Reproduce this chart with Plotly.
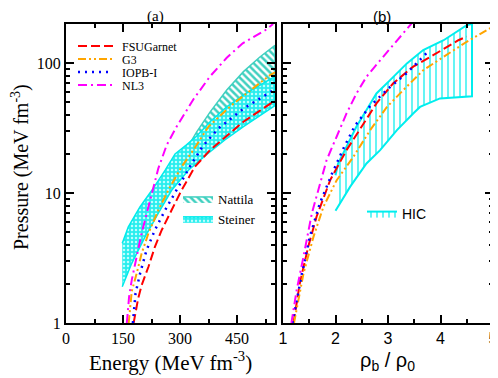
import plotly.graph_objects as go

# ---------------- data ----------------
# Left panel: Energy (MeV fm^-3) vs Pressure (MeV fm^-3)
fsu_E = [178, 190, 199, 217, 234, 252, 278, 304, 339, 379, 467, 546, 550]
fsu_P = [1.0, 1.55, 1.95, 2.71, 3.86, 5.2, 7.4, 10.5, 15.9, 21.4, 35.4, 50.5, 51.5]
g3_E = [165, 173, 186, 199, 217, 243, 269, 304, 335, 375, 436, 537, 550]
g3_P = [1.0, 1.75, 2.41, 3.43, 4.9, 7.4, 10.5, 15.9, 21.4, 32.5, 47.5, 81, 85]
iopb_E = [176, 183, 195, 212, 234, 261, 296, 331, 360, 401, 467, 537, 550]
iopb_P = [1.0, 1.69, 2.41, 3.64, 5.2, 7.4, 11.2, 16.9, 23, 31.4, 44.6, 60, 63]
nl3_E = [160, 166, 173, 186, 199, 217, 243, 265, 291, 335, 379, 423, 465, 524, 545]
nl3_P = [1.0, 1.59, 2.14, 3.24, 4.9, 7.85, 15.5, 23.4, 32.4, 52.5, 79, 110, 142, 179, 200]

nat_up_E = [300, 309, 344, 379, 423, 467, 511, 550]
nat_up_P = [18, 20, 29.6, 42, 62, 86, 112, 137]
nat_lo_E = [300, 344, 379, 423, 467, 511, 550]
nat_lo_P = [17, 24, 33, 44, 55, 66, 77]

st_up_E = [148, 164, 195, 226, 261, 287, 317, 344, 379, 423, 467, 511, 550]
st_up_P = [4.1, 5.5, 7.85, 10.5, 15, 20, 23.5, 27.5, 35.4, 46, 56.9, 67.6, 79]
st_lo_E = [148, 173, 208, 243, 278, 322, 372, 418, 467, 511, 550]
st_lo_P = [1.9, 2.88, 4.6, 7.0, 10.5, 15, 20, 25.6, 32.5, 39.8, 47]

# Right panel: rho_b/rho_0 vs Pressure
nl3_r = [1.16, 1.26, 1.39, 1.55, 1.83, 2.02, 2.21, 2.4, 2.59, 2.85, 3.17, 3.45]
nl3_rP = [1.0, 1.79, 3.24, 7.0, 17.9, 27, 41, 58.4, 78.5, 105, 150, 202]
fsu_r = [1.2, 1.32, 1.48, 1.64, 1.9, 2.21, 2.53, 2.78, 3.1, 3.48, 3.86, 4.34, 4.5]
fsu_rP = [1.0, 2.02, 3.86, 6.6, 12.6, 21.4, 34, 49, 70, 94, 115, 150, 160]
g3_r = [1.21, 1.39, 1.58, 1.77, 2.02, 2.34, 2.66, 2.98, 3.29, 3.67, 4.06, 4.5, 4.94, 5.0]
g3_rP = [1.0, 2.4, 4.6, 7.85, 12.5, 19, 30.5, 46, 62, 88, 112, 146, 185, 190]
iopb_r = [1.18, 1.36, 1.51, 1.7, 1.93, 2.15, 2.37, 2.66, 3.01, 3.36, 3.74]
iopb_rP = [1.0, 2.4, 4.6, 8.3, 14, 22, 33, 46.7, 64, 84, 120]

hic_up_r = [2.0, 2.05, 2.21, 2.4, 2.59, 2.78, 3.04, 3.36, 3.67, 4.06, 4.5, 4.6]
hic_up_P = [13.7, 16.9, 22.7, 32.5, 43.6, 58.4, 74, 99.5, 126, 150, 196, 200]
hic_lo_r = [2.0, 2.28, 2.59, 2.85, 3.17, 3.48, 3.61, 3.99, 4.6]
hic_lo_P = [7.3, 11.2, 16.9, 21.4, 30.5, 41, 46, 53.5, 55.6]

x_ticks_left = [0, 150, 300, 450]
x_ticks_right = [1, 2, 3, 4, 5]
y_ticks = [1, 10, 100]

line_names = ["FSUGarnet", "G3", "IOPB-I", "NL3"]
line_colors = ["#ff0000", "#ffa500", "#0000ff", "#ff00ff"]
line_dashes = ["9px,4px", "8px,3px,2px,3px,2px,3px", "2px,5px", "9px,4px,2px,4px"]

# page body has an 8px default margin: lay out in window pixels and shift
OFF = 8
W, H = 498 - OFF, 378 - OFF
SERIF = "Liberation Serif"
SANS = "Liberation Sans"

def px(x):
    return (x - OFF) / W

def py(y):
    return 1 - (y - OFF) / H

fig = go.Figure()

# bands, left panel
fig.add_trace(go.Scatter(
    x=nat_up_E + nat_lo_E[::-1], y=nat_up_P + nat_lo_P[::-1],
    fill="toself", mode="lines", name="Nattila",
    line=dict(color="rgb(64,208,192)", width=1.5),
    fillcolor="rgba(255,255,255,0)",
    fillpattern=dict(shape="\\", fgcolor="rgb(64,208,192)", bgcolor="white",
                     size=5, solidity=0.5, fillmode="replace"),
    legend="legend2", xaxis="x", yaxis="y"))
fig.add_trace(go.Scatter(
    x=st_up_E + st_lo_E[::-1], y=st_up_P + st_lo_P[::-1],
    fill="toself", mode="lines", name="Steiner",
    line=dict(color="rgb(0,235,235)", width=1.5),
    fillcolor="rgba(255,255,255,0)",
    fillpattern=dict(shape=".", fgcolor="rgb(190,255,255)", bgcolor="rgb(40,238,238)",
                     size=4, solidity=0.3, fillmode="replace"),
    legend="legend2", xaxis="x", yaxis="y"))

# HIC band, right panel
fig.add_trace(go.Scatter(
    x=hic_up_r + hic_lo_r[::-1], y=hic_up_P + hic_lo_P[::-1],
    fill="toself", mode="lines", name="HIC",
    line=dict(color="rgb(0,238,238)", width=2),
    fillcolor="rgba(255,255,255,0)",
    fillpattern=dict(shape="|", fgcolor="rgb(0,238,238)", bgcolor="white",
                     size=6, solidity=0.2, fillmode="replace"),
    legend="legend3", xaxis="x2", yaxis="y2"))

left_sets = [(fsu_E, fsu_P), (g3_E, g3_P), (iopb_E, iopb_P), (nl3_E, nl3_P)]
right_sets = [(fsu_r, fsu_rP), (g3_r, g3_rP), (iopb_r, iopb_rP), (nl3_r, nl3_rP)]
for i, name in enumerate(line_names):
    w = 2.5 if name == "IOPB-I" else 2
    fig.add_trace(go.Scatter(x=left_sets[i][0], y=left_sets[i][1], mode="lines", name=name,
                             line=dict(color=line_colors[i], dash=line_dashes[i], width=w),
                             showlegend=False, xaxis="x", yaxis="y"))
    fig.add_trace(go.Scatter(x=right_sets[i][0], y=right_sets[i][1], mode="lines", name=name,
                             line=dict(color=line_colors[i], dash=line_dashes[i], width=w),
                             showlegend=False, xaxis="x2", yaxis="y2"))

# manual legend for lines (panel a)
for i, name in enumerate(line_names):
    yy = 46 + i * 13
    fig.add_shape(type="line", xref="paper", yref="paper",
                  x0=px(78), x1=px(113), y0=py(yy), y1=py(yy),
                  line=dict(color=line_colors[i], dash=line_dashes[i],
                            width=2.5 if name == "IOPB-I" else 2))
    fig.add_annotation(x=px(121), y=py(yy), xref="paper", yref="paper", text=name,
                       showarrow=False, xanchor="left", yanchor="middle",
                       height=11, valign="middle", borderpad=0,
                       font=dict(family=SERIF, size=12, color="black"))

ydom = [py(323), py(24)]
axis_common = dict(showline=True, linewidth=2, linecolor="black", mirror="allticks",
                   ticks="inside", ticklen=8, tickwidth=1.5, tickcolor="black",
                   showgrid=False, zeroline=False, automargin=False)

fig.update_layout(
    template="none",
    width=W, height=H, margin=dict(l=0, r=0, t=0, b=0, pad=0, autoexpand=False),
    paper_bgcolor="white", plot_bgcolor="white",
    font=dict(family=SERIF, color="black"),
    xaxis=dict(domain=[px(66), px(275)], range=[0, 550], tickvals=x_ticks_left,
               tickfont=dict(family=SERIF, size=16, color="black"),
               minor=dict(ticks="inside", ticklen=4, dtick=75, tickwidth=1.5, tickcolor="black"),
               anchor="y", **axis_common),
    yaxis=dict(domain=ydom, type="log", range=[0, 2.30103], tickvals=y_ticks,
               ticktext=[str(v) for v in y_ticks],
               tickfont=dict(family=SERIF, size=16, color="black"),
               minor=dict(ticks="inside", ticklen=4, dtick="D1", tickwidth=1.5, tickcolor="black"),
               anchor="x", **axis_common),
    xaxis2=dict(domain=[px(283), px(493)], range=[1, 5], tickvals=x_ticks_right,
                tickfont=dict(family=SANS, size=16, color="black"),
                minor=dict(ticks="inside", ticklen=4, dtick=0.5, tickwidth=1.5, tickcolor="black"),
                anchor="y2", **axis_common),
    yaxis2=dict(domain=ydom, type="log", range=[0, 2.30103], tickvals=y_ticks,
                showticklabels=False,
                minor=dict(ticks="inside", ticklen=4, dtick="D1", tickwidth=1.5, tickcolor="black"),
                anchor="x2", **axis_common),
    showlegend=True,
    legend2=dict(x=px(178), y=py(184), xanchor="left", yanchor="top",
                 bgcolor="rgba(0,0,0,0)", font=dict(family=SERIF, size=13, color="black"),
                 itemwidth=30),
    legend3=dict(x=px(362), y=py(198), xanchor="left", yanchor="top",
                 bgcolor="rgba(0,0,0,0)", font=dict(family=SANS, size=14, color="black"),
                 itemwidth=30),
)

# panel labels and axis titles
def label(x, y, text, family, size, angle=0):
    fig.add_annotation(x=px(x), y=py(y), xref="paper", yref="paper", text=text,
                       showarrow=False, xanchor="center", yanchor="middle", textangle=angle,
                       borderpad=0, font=dict(family=family, size=size, color="black"))

label(155, 16, "(a)", SERIF, 15)
label(382, 16, "(b)", SANS, 15)
label(170, 361, "Energy (MeV fm<sup>-3</sup>)", SERIF, 21)
label(387, 361, "ρ<sub>b</sub> / ρ<sub>0</sub>", SANS, 20)
label(20, 167, "Pressure (MeV fm<sup>-3</sup>)", SERIF, 20, -90)

fig.write_html("out.html")
